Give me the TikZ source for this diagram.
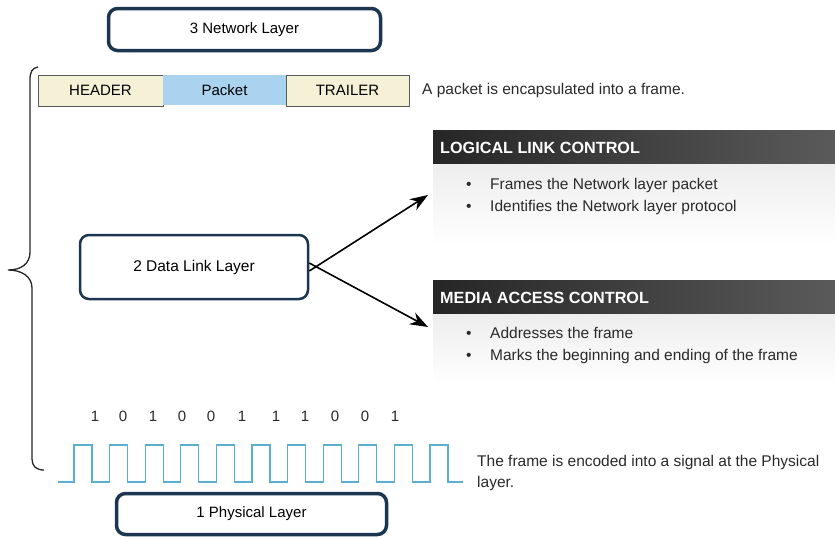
\documentclass[tikz,border=0pt]{standalone}
\usepackage{fontspec}
\setmainfont{Liberation Sans}
\usetikzlibrary{arrows.meta}
\definecolor{navy}{HTML}{1C3650}
\definecolor{hdrfill}{HTML}{F4F1D6}
\definecolor{pktfill}{HTML}{A9D3EF}
\definecolor{wave}{HTML}{5AAED0}
\definecolor{bardark}{HTML}{262626}
\definecolor{barlight}{HTML}{5A5A5A}
\definecolor{textgray}{HTML}{2A2A2A}
\tikzset{
  layerbox/.style={draw=navy, rounded corners=9pt, fill=white, inner sep=0pt},
  fieldbox/.style={draw=black!65, line width=1pt, fill=hdrfill, minimum height=31pt, inner sep=0pt,
    font=\fontsize{15}{17}\selectfont},
  txt/.style={anchor=base west, inner sep=0pt, text=textgray, font=\fontsize{15.5}{17}\selectfont},
  bartxt/.style={anchor=base west, inner sep=0pt, text=white, font=\fontsize{16.2}{18}\selectfont\bfseries},
  bitlbl/.style={anchor=base, inner sep=0pt, text=textgray, font=\fontsize{15}{17}\selectfont},
  linkarrow/.style={draw=black, line width=1.6pt, -{Stealth[length=18pt, width=13pt]}},
}
\begin{document}
\begin{tikzpicture}[x=1pt, y=-1pt]
\useasboundingbox (0,0) rectangle (835,536);
\fill[white] (0,0) rectangle (835,536);

% layer boxes
\node[layerbox, line width=3.5pt, minimum width=272pt, minimum height=42pt,
      font=\fontsize{15}{17}\selectfont] (net) at (244.5,29.5) {3 Network Layer};
\node[layerbox, line width=2.5pt, minimum width=228pt, minimum height=64pt,
      font=\fontsize{15.5}{17}\selectfont] (dll) at (194,267) {2 Data Link Layer};
\node[layerbox, line width=3.5pt, minimum width=270pt, minimum height=41pt,
      font=\fontsize{15}{17}\selectfont] (phy) at (251.5,514) {1 Physical Layer};

% frame: header, packet, trailer
\node[fieldbox, minimum width=125pt] (hdr) at (100.5,90.5) {HEADER};
\node[fill=pktfill, minimum width=123pt, minimum height=30pt, inner sep=0pt,
      font=\fontsize{15}{17}\selectfont] (pkt) at (224.5,90) {Packet};
\node[fieldbox, minimum width=123pt] (trl) at (347.5,90.5) {TRAILER};
\node[txt] (enc) at (422,94) {A packet is encapsulated into a frame.};

% brace grouping the frame stages
\draw[line width=1.3pt, black!85]
  (38,67) .. controls (32,68) and (30,72) .. (30,80) -- (30,252)
  .. controls (30,264) and (21,270) .. (8,270)
  .. controls (21,270) and (32,276) .. (32,288) -- (32,459)
  .. controls (32,466) and (36,470) .. (44,470);

% sublayer panels
\shade[top color=black!7, bottom color=white] (433,163) rectangle (835,245);
\shade[top color=black!7, bottom color=white] (433,313) rectangle (835,385);
\shade[left color=bardark, right color=barlight] (433,130) rectangle (835,163);
\shade[left color=bardark, right color=barlight] (433,280) rectangle (835,313);
\node[bartxt] (llc) at (440,153) {LOGICAL LINK CONTROL};
\node[bartxt] (mac) at (440,303) {MEDIA ACCESS CONTROL};

\foreach \y/\t [count=\k] in {189/Frames the Network layer packet,
                               211/Identifies the Network layer protocol}{
  \node[txt] (llcb\k) at (466,\y) {•};
  \node[txt] (llct\k) at (490,\y) {\t};
}
\foreach \y/\t [count=\k] in {338/Addresses the frame,
                               360/Marks the beginning and ending of the frame}{
  \node[txt] (macb\k) at (466,\y) {•};
  \node[txt] (mact\k) at (490,\y) {\t};
}

% arrows from the data link layer to its sublayers
\coordinate (llcin) at (428,195);
\coordinate (macin) at (428,327);
\draw[linkarrow] ([yshift=-4pt]dll.east) -- (llcin);
\draw[linkarrow] ([yshift=4pt]dll.east) -- (macin);

% bit stream
\foreach \x/\b [count=\k] in {95/1,123/0,153/1,182/0,211/0,242/1,276/1,305/1,335/0,365/0,395/1}{
  \node[bitlbl] (bit\k) at (\x,421) {\b};
}

% encoded signal
\draw[wave, line width=1.2pt, line join=miter]
  (58,482) foreach \i in {0,...,10}{
    -- ({74+35.6*\i},482) -- ({74+35.6*\i},445) -- ({92+35.6*\i},445) -- ({92+35.6*\i},482)
  } -- (463,482);
\node[txt] (sig1) at (477,466) {The frame is encoded into a signal at the Physical};
\node[txt] (sig2) at (477,487) {layer.};
\end{tikzpicture}
\end{document}
